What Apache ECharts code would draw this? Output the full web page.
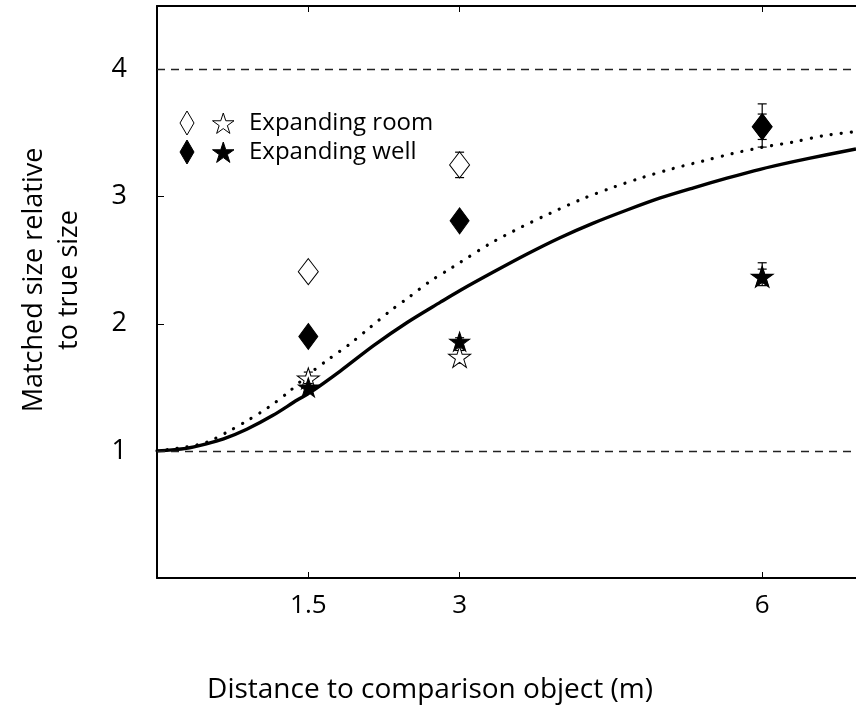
<!DOCTYPE html>
<html>
<head>
<meta charset="utf-8">
<script src="https://cdn.jsdelivr.net/npm/echarts@6/dist/echarts.min.js"></script>
<style>
  html, body { margin: 0; padding: 0; background: #fff; }
  #chart { width: 856px; height: 712px; }
</style>
</head>
<body>
<div id="chart"></div>
<script>
// distances (m) where the objects were shown
const distances = [1.5, 3, 6]
const tickValues = [1.5, 3, 6]
const yTickValues = [1, 2, 3, 4]

// matched sizes
const roomDiamond = [2.41, 3.25, 3.55]
const roomStar = [1.57, 1.74, 2.37]
const wellDiamond = [1.90, 2.81, 3.55]
const wellStar = [1.50, 1.86, 2.37]

// error bars [low, high]
const roomDiamondErr = [[2.37, 2.45], [3.15, 3.35], [3.45, 3.65]]
const roomStarErr = [[1.52, 1.62], [1.69, 1.79], [2.33, 2.43]]
const wellDiamondErr = [[1.86, 1.94], [2.77, 2.85], [3.39, 3.73]]
const wellStarErr = [[1.47, 1.53], [1.83, 1.89], [2.30, 2.48]]

// model curves
const solidX = [0, 0.29, 0.49, 0.66, 0.89, 1.15, 1.39, 1.52, 1.82, 2.15, 2.48, 2.81, 3.0, 3.33, 3.66, 3.99, 4.32, 4.66, 4.99, 5.32, 5.65, 5.98, 6.31, 6.64, 6.93]
const solidY = [1.0, 1.02, 1.055, 1.094, 1.17, 1.28, 1.40, 1.46, 1.63, 1.83, 2.01, 2.17, 2.26, 2.405, 2.545, 2.675, 2.79, 2.895, 2.99, 3.07, 3.145, 3.215, 3.275, 3.33, 3.375]
const dotX = [0, 0.29, 0.5, 0.70, 0.90, 1.10, 1.30, 1.50, 1.70, 1.91, 2.11, 2.31, 2.50, 2.70, 2.90, 3.0, 3.30, 3.61, 3.90, 4.21, 4.51, 4.81, 5.11, 5.41, 5.71, 6.01, 6.31, 6.61, 6.91]
const dotY = [1.0, 1.03, 1.07, 1.15, 1.24, 1.34, 1.46, 1.60, 1.72, 1.84, 1.97, 2.10, 2.21, 2.33, 2.43, 2.48, 2.63, 2.76, 2.87, 2.98, 3.07, 3.15, 3.22, 3.28, 3.34, 3.39, 3.43, 3.48, 3.51]

const FONT = 'Open Sans'

// five point star outline in a 100 box
const starPts = [[50, 0], [61.2, 34.5], [97.6, 34.5], [68.2, 55.9], [79.4, 90.5], [50, 69.1], [20.6, 90.5], [31.8, 55.9], [2.4, 34.5], [38.8, 34.5]]
const STAR = 'path://M' + starPts.map(p => p.join(',')).join('L') + 'Z'

const chart = echarts.init(document.getElementById('chart'))

function pairs (xs, ys) {
  return xs.map((x, i) => [x, ys[i]])
}

function starPoly (size) {
  const k = size / 97.6
  return starPts.map(p => [p[0] * k, p[1] * k])
}

// error bar series (vertical line with caps)
function errSeries (vals, z) {
  return {
    type: 'custom',
    z: z,
    silent: true,
    data: distances.map((d, i) => [d, vals[i][0], vals[i][1]]),
    renderItem: (params, api) => {
      const lo = api.coord([api.value(0), api.value(1)])
      const hi = api.coord([api.value(0), api.value(2)])
      const w = 4.5
      const st = { stroke: '#000', lineWidth: 1.2 }
      return {
        type: 'group',
        children: [
          { type: 'line', shape: { x1: lo[0], y1: lo[1], x2: hi[0], y2: hi[1] }, style: st },
          { type: 'line', shape: { x1: lo[0] - w, y1: lo[1], x2: lo[0] + w, y2: lo[1] }, style: st },
          { type: 'line', shape: { x1: hi[0] - w, y1: hi[1], x2: hi[0] + w, y2: hi[1] }, style: st }
        ]
      }
    }
  }
}

function markSeries (vals, symbol, size, filled, z) {
  return {
    type: 'scatter',
    z: z,
    symbol: symbol,
    symbolSize: size,
    data: pairs(distances, vals),
    itemStyle: {
      color: filled ? '#000' : '#fff',
      borderColor: '#000',
      borderWidth: 1,
      opacity: 1
    }
  }
}

const diamondPts = [[7, 0], [14, 12], [7, 24], [0, 12]]

const option = {
  animation: false,
  backgroundColor: '#fff',
  textStyle: { fontFamily: FONT },
  grid: { left: 157, top: 6, right: 0, bottom: 134 },
  xAxis: [
    {
      type: 'value', min: 0, max: 6.93, position: 'bottom',
      axisLine: { onZero: false, lineStyle: { color: '#000', width: 2 } },
      axisTick: { inside: true, length: 6, customValues: tickValues, lineStyle: { color: '#000', width: 1 } },
      axisLabel: { customValues: tickValues, fontSize: 26, color: '#000', margin: 15, fontFamily: FONT },
      splitLine: { show: false }
    },
    {
      type: 'value', min: 0, max: 6.93, position: 'top',
      axisLine: { onZero: false, lineStyle: { color: '#000', width: 2 } },
      axisTick: { inside: true, length: 6, customValues: tickValues, lineStyle: { color: '#000', width: 1 } },
      axisLabel: { show: false },
      splitLine: { show: false }
    }
  ],
  yAxis: {
    type: 'value', min: 0, max: 4.5,
    axisLine: { onZero: false, lineStyle: { color: '#000', width: 2 } },
    axisTick: { inside: true, length: 7, customValues: yTickValues, lineStyle: { color: '#000', width: 1 } },
    axisLabel: { customValues: yTickValues, fontSize: 27, color: '#000', margin: 30, fontFamily: FONT },
    splitLine: { show: false }
  },
  graphic: [
    // axis titles
    { type: 'text', x: 430, y: 690, style: { text: 'Distance to comparison object (m)', font: '28px "Open Sans"', fill: '#000', align: 'center', verticalAlign: 'middle' } },
    { type: 'text', x: 52, y: 280, rotation: Math.PI / 2, style: { text: 'Matched size relative\nto true size', font: '27px "Open Sans"', lineHeight: 35, fill: '#000', align: 'center', verticalAlign: 'middle' } },
    // legend, drawn by hand (two symbols per row)
    { type: 'polygon', x: 180, y: 111, shape: { points: diamondPts }, style: { fill: '#fff', stroke: '#000', lineWidth: 1 } },
    { type: 'polygon', x: 212, y: 113, shape: { points: starPoly(22) }, style: { fill: '#fff', stroke: '#000', lineWidth: 1 } },
    { type: 'text', x: 249, y: 123, style: { text: 'Expanding room', font: '24px "Open Sans"', fill: '#000', verticalAlign: 'middle' } },
    { type: 'polygon', x: 180, y: 140, shape: { points: diamondPts }, style: { fill: '#000', stroke: '#000', lineWidth: 1 } },
    { type: 'polygon', x: 212, y: 142, shape: { points: starPoly(22) }, style: { fill: '#000', stroke: '#000', lineWidth: 1 } },
    { type: 'text', x: 249, y: 152, style: { text: 'Expanding well', font: '24px "Open Sans"', fill: '#000', verticalAlign: 'middle' } }
  ],
  series: [
    {
      type: 'line', z: 2, showSymbol: false, smooth: 0.3,
      data: pairs(solidX, solidY),
      lineStyle: { color: '#000', width: 3.4 },
      markLine: {
        silent: true, symbol: 'none', label: { show: false },
        lineStyle: { color: '#222', width: 1.3, type: [8, 6] },
        data: [{ yAxis: 1 }, { yAxis: 4 }]
      }
    },
    {
      type: 'line', z: 2, showSymbol: false, smooth: 0.3,
      data: pairs(dotX, dotY),
      lineStyle: { color: '#000', width: 3.2, type: [0.1, 10], cap: 'round' }
    },
    errSeries(roomDiamondErr, 3),
    errSeries(roomStarErr, 3),
    markSeries(roomDiamond, 'diamond', [20, 26], false, 4),
    markSeries(roomStar, STAR, [22, 21], false, 4),
    errSeries(wellDiamondErr, 5),
    errSeries(wellStarErr, 5),
    markSeries(wellDiamond, 'diamond', [19, 26], true, 6),
    markSeries(wellStar, STAR, [20, 19], true, 6)
  ]
}

chart.setOption(option)
</script>
</body>
</html>
